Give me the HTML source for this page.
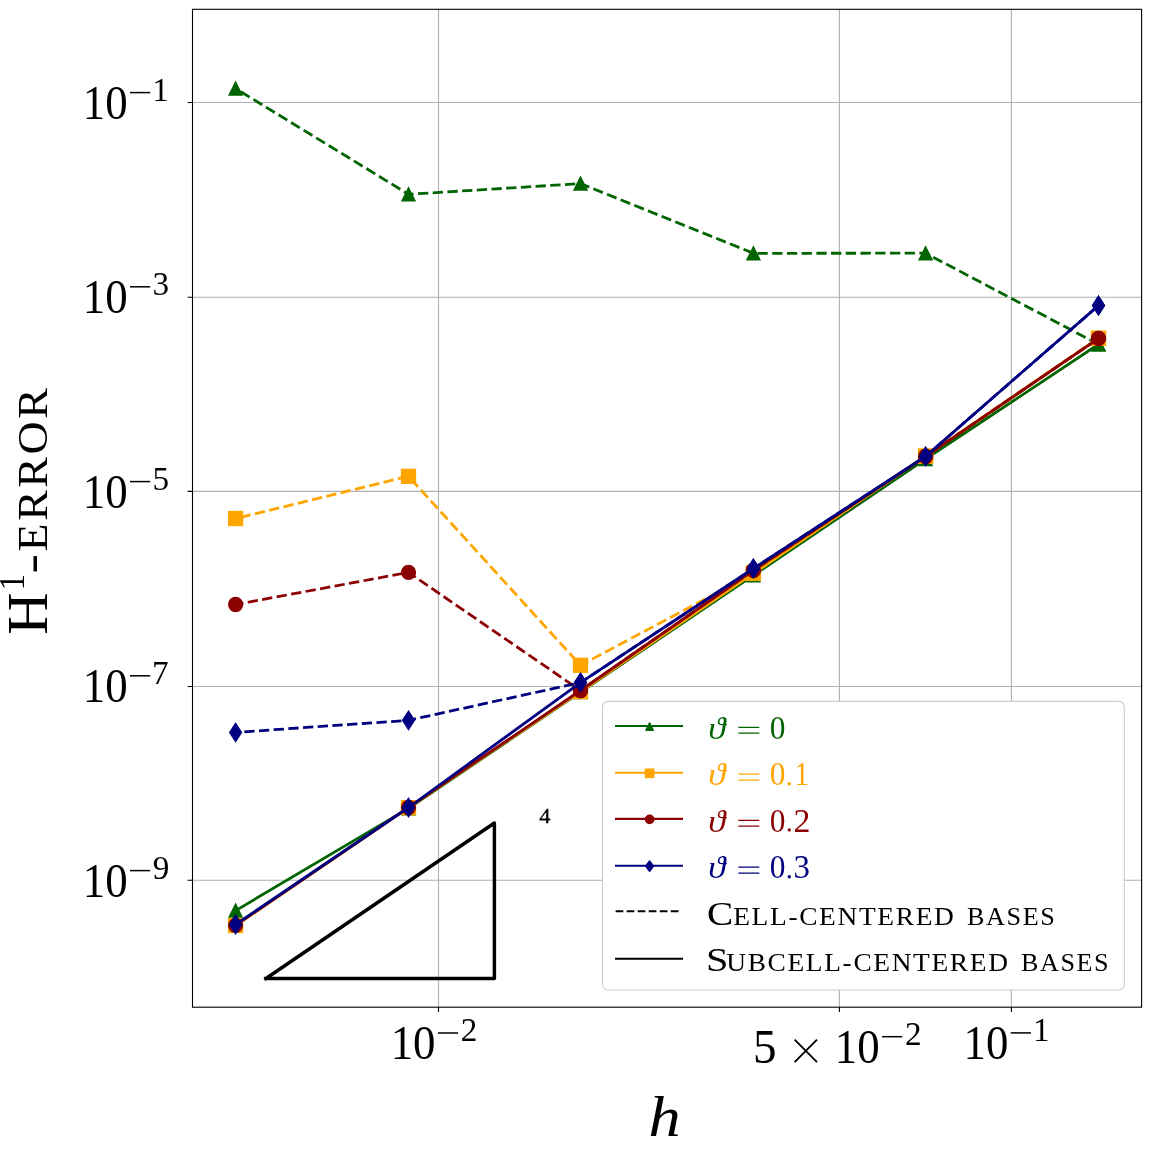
<!DOCTYPE html>
<html><head><meta charset="utf-8"><title>H1-error convergence</title>
<style>html,body{margin:0;padding:0;background:#fff}body{width:1150px;height:1156px;overflow:hidden;font-family:"Liberation Serif",serif}</style>
</head><body>
<svg width="1150" height="1156" viewBox="0 0 1150 1156" style="display:block;font-kerning:none;will-change:transform">
<rect width="1150" height="1156" fill="#fff"/>
<path d="M438.5 9.3V1007.2M839.4 9.3V1007.2M1011.4 9.3V1007.2M192.5 102.5H1141.6M192.5 297.3H1141.6M192.5 491.4H1141.6M192.5 686.5H1141.6M192.5 880.2H1141.6" stroke="#b0b0b0" stroke-width="1.1" fill="none"/>
<clipPath id="c"><rect x="192.5" y="9.3" width="949.0999999999999" height="997.9000000000001"/></clipPath>
<g clip-path="url(#c)">
<polyline points="1098.50,344.30 925.60,253.20 753.40,253.30 580.50,183.60 408.50,194.30 235.60,88.50" fill="none" stroke="#006400" stroke-width="2.78" stroke-dasharray="10.28 4.44" stroke-dashoffset="0.00" stroke-linejoin="round"/>
<path d="M235.60 82.01L229.11 94.99L242.09 94.99Z" fill="#006400" stroke="#006400" stroke-width="1.39" stroke-linejoin="miter"/>
<path d="M408.50 187.81L402.01 200.79L414.99 200.79Z" fill="#006400" stroke="#006400" stroke-width="1.39" stroke-linejoin="miter"/>
<path d="M580.50 177.11L574.01 190.09L586.99 190.09Z" fill="#006400" stroke="#006400" stroke-width="1.39" stroke-linejoin="miter"/>
<path d="M753.40 246.81L746.91 259.79L759.89 259.79Z" fill="#006400" stroke="#006400" stroke-width="1.39" stroke-linejoin="miter"/>
<path d="M925.60 246.71L919.11 259.69L932.09 259.69Z" fill="#006400" stroke="#006400" stroke-width="1.39" stroke-linejoin="miter"/>
<path d="M1098.50 337.81L1092.01 350.79L1104.99 350.79Z" fill="#006400" stroke="#006400" stroke-width="1.39" stroke-linejoin="miter"/>
<polyline points="235.60,910.60 408.50,808.40 580.50,692.00 753.40,575.30 925.60,459.10 1098.50,344.30" fill="none" stroke="#006400" stroke-width="2.78" stroke-linejoin="round" stroke-linecap="square"/>
<path d="M235.60 904.11L229.11 917.09L242.09 917.09Z" fill="#006400" stroke="#006400" stroke-width="1.39" stroke-linejoin="miter"/>
<path d="M408.50 801.91L402.01 814.89L414.99 814.89Z" fill="#006400" stroke="#006400" stroke-width="1.39" stroke-linejoin="miter"/>
<path d="M580.50 685.51L574.01 698.49L586.99 698.49Z" fill="#006400" stroke="#006400" stroke-width="1.39" stroke-linejoin="miter"/>
<path d="M753.40 568.81L746.91 581.79L759.89 581.79Z" fill="#006400" stroke="#006400" stroke-width="1.39" stroke-linejoin="miter"/>
<path d="M925.60 452.61L919.11 465.59L932.09 465.59Z" fill="#006400" stroke="#006400" stroke-width="1.39" stroke-linejoin="miter"/>
<path d="M1098.50 337.81L1092.01 350.79L1104.99 350.79Z" fill="#006400" stroke="#006400" stroke-width="1.39" stroke-linejoin="miter"/>
<polyline points="1098.50,338.30 925.60,456.20 753.40,573.40 580.50,665.30 408.50,476.30 235.60,518.50" fill="none" stroke="#ffa500" stroke-width="2.78" stroke-dasharray="10.28 4.44" stroke-dashoffset="-1.10" stroke-linejoin="round"/>
<rect x="228.66" y="511.56" width="13.89" height="13.89" fill="#ffa500" stroke="#ffa500" stroke-width="1.39"/>
<rect x="401.56" y="469.36" width="13.89" height="13.89" fill="#ffa500" stroke="#ffa500" stroke-width="1.39"/>
<rect x="573.56" y="658.36" width="13.89" height="13.89" fill="#ffa500" stroke="#ffa500" stroke-width="1.39"/>
<rect x="746.46" y="566.46" width="13.89" height="13.89" fill="#ffa500" stroke="#ffa500" stroke-width="1.39"/>
<rect x="918.66" y="449.26" width="13.89" height="13.89" fill="#ffa500" stroke="#ffa500" stroke-width="1.39"/>
<rect x="1091.56" y="331.36" width="13.89" height="13.89" fill="#ffa500" stroke="#ffa500" stroke-width="1.39"/>
<polyline points="235.60,925.50 408.50,807.70 580.50,691.50 753.40,573.40 925.60,456.20 1098.50,338.30" fill="none" stroke="#ffa500" stroke-width="2.78" stroke-linejoin="round" stroke-linecap="square"/>
<rect x="228.66" y="918.56" width="13.89" height="13.89" fill="#ffa500" stroke="#ffa500" stroke-width="1.39"/>
<rect x="401.56" y="800.76" width="13.89" height="13.89" fill="#ffa500" stroke="#ffa500" stroke-width="1.39"/>
<rect x="573.56" y="684.56" width="13.89" height="13.89" fill="#ffa500" stroke="#ffa500" stroke-width="1.39"/>
<rect x="746.46" y="566.46" width="13.89" height="13.89" fill="#ffa500" stroke="#ffa500" stroke-width="1.39"/>
<rect x="918.66" y="449.26" width="13.89" height="13.89" fill="#ffa500" stroke="#ffa500" stroke-width="1.39"/>
<rect x="1091.56" y="331.36" width="13.89" height="13.89" fill="#ffa500" stroke="#ffa500" stroke-width="1.39"/>
<polyline points="1098.50,338.40 925.60,456.50 753.40,570.30 580.50,690.50 408.50,572.40 235.60,604.50" fill="none" stroke="#8b0000" stroke-width="2.78" stroke-dasharray="10.28 4.44" stroke-dashoffset="-2.00" stroke-linejoin="round"/>
<circle cx="235.60" cy="604.50" r="6.94" fill="#8b0000" stroke="#8b0000" stroke-width="1.39"/>
<circle cx="408.50" cy="572.40" r="6.94" fill="#8b0000" stroke="#8b0000" stroke-width="1.39"/>
<circle cx="580.50" cy="690.50" r="6.94" fill="#8b0000" stroke="#8b0000" stroke-width="1.39"/>
<circle cx="753.40" cy="570.30" r="6.94" fill="#8b0000" stroke="#8b0000" stroke-width="1.39"/>
<circle cx="925.60" cy="456.50" r="6.94" fill="#8b0000" stroke="#8b0000" stroke-width="1.39"/>
<circle cx="1098.50" cy="338.40" r="6.94" fill="#8b0000" stroke="#8b0000" stroke-width="1.39"/>
<polyline points="235.60,925.30 408.50,807.50 580.50,690.50 753.40,570.30 925.60,456.50 1098.50,338.40" fill="none" stroke="#8b0000" stroke-width="2.78" stroke-linejoin="round" stroke-linecap="square"/>
<circle cx="235.60" cy="925.30" r="6.94" fill="#8b0000" stroke="#8b0000" stroke-width="1.39"/>
<circle cx="408.50" cy="807.50" r="6.94" fill="#8b0000" stroke="#8b0000" stroke-width="1.39"/>
<circle cx="580.50" cy="690.50" r="6.94" fill="#8b0000" stroke="#8b0000" stroke-width="1.39"/>
<circle cx="753.40" cy="570.30" r="6.94" fill="#8b0000" stroke="#8b0000" stroke-width="1.39"/>
<circle cx="925.60" cy="456.50" r="6.94" fill="#8b0000" stroke="#8b0000" stroke-width="1.39"/>
<circle cx="1098.50" cy="338.40" r="6.94" fill="#8b0000" stroke="#8b0000" stroke-width="1.39"/>
<polyline points="1098.50,305.50 925.60,456.40 753.40,568.50 580.50,682.60 408.50,720.30 235.60,732.40" fill="none" stroke="#000080" stroke-width="2.78" stroke-dasharray="10.28 4.44" stroke-dashoffset="-1.00" stroke-linejoin="round"/>
<path d="M235.60 723.30L241.49 732.40L235.60 741.50L229.71 732.40Z" fill="#000080" stroke="#000080" stroke-width="1.39" stroke-linejoin="miter"/>
<path d="M408.50 711.20L414.39 720.30L408.50 729.40L402.61 720.30Z" fill="#000080" stroke="#000080" stroke-width="1.39" stroke-linejoin="miter"/>
<path d="M580.50 673.50L586.39 682.60L580.50 691.70L574.61 682.60Z" fill="#000080" stroke="#000080" stroke-width="1.39" stroke-linejoin="miter"/>
<path d="M753.40 559.40L759.29 568.50L753.40 577.60L747.51 568.50Z" fill="#000080" stroke="#000080" stroke-width="1.39" stroke-linejoin="miter"/>
<path d="M925.60 447.30L931.49 456.40L925.60 465.50L919.71 456.40Z" fill="#000080" stroke="#000080" stroke-width="1.39" stroke-linejoin="miter"/>
<path d="M1098.50 296.40L1104.39 305.50L1098.50 314.60L1092.61 305.50Z" fill="#000080" stroke="#000080" stroke-width="1.39" stroke-linejoin="miter"/>
<polyline points="235.60,924.50 408.50,807.50 580.50,682.60 753.40,568.50 925.60,456.40 1098.50,305.50" fill="none" stroke="#000080" stroke-width="2.78" stroke-linejoin="round" stroke-linecap="square"/>
<path d="M235.60 915.40L241.49 924.50L235.60 933.60L229.71 924.50Z" fill="#000080" stroke="#000080" stroke-width="1.39" stroke-linejoin="miter"/>
<path d="M408.50 798.40L414.39 807.50L408.50 816.60L402.61 807.50Z" fill="#000080" stroke="#000080" stroke-width="1.39" stroke-linejoin="miter"/>
<path d="M580.50 673.50L586.39 682.60L580.50 691.70L574.61 682.60Z" fill="#000080" stroke="#000080" stroke-width="1.39" stroke-linejoin="miter"/>
<path d="M753.40 559.40L759.29 568.50L753.40 577.60L747.51 568.50Z" fill="#000080" stroke="#000080" stroke-width="1.39" stroke-linejoin="miter"/>
<path d="M925.60 447.30L931.49 456.40L925.60 465.50L919.71 456.40Z" fill="#000080" stroke="#000080" stroke-width="1.39" stroke-linejoin="miter"/>
<path d="M1098.50 296.40L1104.39 305.50L1098.50 314.60L1092.61 305.50Z" fill="#000080" stroke="#000080" stroke-width="1.39" stroke-linejoin="miter"/>
<path d="M265.9 978.5H494.4V823L265.9 978.5" fill="none" stroke="#000" stroke-width="3.47" stroke-linejoin="round" stroke-linecap="square"/>
</g>
<text transform="translate(539.16,823.00) scale(1.0310,1)" font-family="Liberation Serif, serif" font-size="21.7" fill="#000" stroke="#000" stroke-width="0.35">4</text>
<rect x="192.5" y="9.3" width="949.0999999999999" height="997.9000000000001" fill="none" stroke="#000" stroke-width="1.1"/>
<path d="M438.5 1007.2v4.9M839.4 1007.2v4.9M1011.4 1007.2v4.9M192.5 102.5h-4.9M192.5 297.3h-4.9M192.5 491.4h-4.9M192.5 686.5h-4.9M192.5 880.2h-4.9" stroke="#000" stroke-width="1.1" fill="none"/>
<text transform="translate(82.76,118.80) scale(0.9153,1)" font-family="Liberation Serif, serif" font-size="49.0" fill="#000">10</text><rect x="130.00" y="91.85" width="20.2" height="1.5" fill="#000"/><text transform="translate(152.24,100.80) scale(1.0000,1)" font-family="Liberation Serif, serif" font-size="33.2" fill="#000">1</text>
<text transform="translate(82.76,313.00) scale(0.9153,1)" font-family="Liberation Serif, serif" font-size="49.0" fill="#000">10</text><rect x="130.00" y="286.05" width="20.2" height="1.5" fill="#000"/><text transform="translate(152.55,295.00) scale(1.0000,1)" font-family="Liberation Serif, serif" font-size="33.2" fill="#000">3</text>
<text transform="translate(82.76,507.80) scale(0.9153,1)" font-family="Liberation Serif, serif" font-size="49.0" fill="#000">10</text><rect x="130.00" y="480.85" width="20.2" height="1.5" fill="#000"/><text transform="translate(152.38,489.80) scale(1.0000,1)" font-family="Liberation Serif, serif" font-size="33.2" fill="#000">5</text>
<text transform="translate(82.76,702.00) scale(0.9153,1)" font-family="Liberation Serif, serif" font-size="49.0" fill="#000">10</text><rect x="130.00" y="675.05" width="20.2" height="1.5" fill="#000"/><text transform="translate(152.08,684.00) scale(1.0000,1)" font-family="Liberation Serif, serif" font-size="33.2" fill="#000">7</text>
<text transform="translate(82.76,896.80) scale(0.9153,1)" font-family="Liberation Serif, serif" font-size="49.0" fill="#000">10</text><rect x="130.00" y="869.85" width="20.2" height="1.5" fill="#000"/><text transform="translate(152.85,878.80) scale(1.0000,1)" font-family="Liberation Serif, serif" font-size="33.2" fill="#000">9</text>
<text transform="translate(390.66,1059.20) scale(0.9153,1)" font-family="Liberation Serif, serif" font-size="49.0" fill="#000">10</text><rect x="437.90" y="1032.25" width="20.2" height="1.5" fill="#000"/><text transform="translate(460.79,1041.20) scale(1.0000,1)" font-family="Liberation Serif, serif" font-size="33.2" fill="#000">2</text>
<text transform="translate(963.46,1059.10) scale(0.9153,1)" font-family="Liberation Serif, serif" font-size="49.0" fill="#000">10</text><rect x="1010.70" y="1032.15" width="20.2" height="1.5" fill="#000"/><text transform="translate(1032.94,1041.10) scale(1.0000,1)" font-family="Liberation Serif, serif" font-size="33.2" fill="#000">1</text>
<text transform="translate(834.86,1062.90) scale(0.9153,1)" font-family="Liberation Serif, serif" font-size="49.0" fill="#000">10</text><rect x="882.10" y="1035.95" width="20.2" height="1.5" fill="#000"/><text transform="translate(904.99,1044.90) scale(1.0000,1)" font-family="Liberation Serif, serif" font-size="33.2" fill="#000">2</text>
<text transform="translate(752.96,1062.90) scale(0.9626,1)" font-family="Liberation Serif, serif" font-size="49.0" fill="#000">5</text>
<path d="M794.6 1039.7L817 1062.1M817 1039.7L794.6 1062.1" stroke="#000" stroke-width="1.9" fill="none"/>
<text transform="translate(648.57,1135.60) scale(1.1103,1)" font-family="Liberation Serif, serif" font-style="italic" font-size="58.0" fill="#000">h</text>
<g transform="translate(46.8,633.1) rotate(-90)"><text transform="translate(-1.69,0.00) scale(1.0100,1)" font-family="Liberation Serif, serif" font-size="58.0" fill="#000">H</text><text transform="translate(42.48,-22.80) scale(0.9388,1)" font-family="Liberation Serif, serif" font-size="35.4" fill="#000">1</text><rect x="61.7" y="-13.3" width="15.3" height="3.5" fill="#000"/><text transform="translate(81.68,0.00) scale(1.0841,1)" font-family="Liberation Serif, serif" letter-spacing="2.4" font-size="42.3" fill="#000">ERROR</text></g>
<rect x="602.5" y="701.4" width="521.8" height="288.6" rx="5.5" ry="5.5" fill="#fff" stroke="#ccc" stroke-width="1.1"/>
<path d="M615 726.0H683" stroke="#006400" stroke-width="2.08"/>
<path d="M649.60 722.81L645.91 730.19L653.29 730.19Z" fill="#006400" stroke="#006400" stroke-width="1.39" stroke-linejoin="round"/>
<text transform="translate(708.34,738.60) scale(1.0762,1)" font-family="Liberation Serif, serif" font-style="italic" font-size="32.6" fill="#006400">ϑ</text>
<path d="M738.4 727.4H759.3M738.4 733.2H759.3" stroke="#006400" stroke-width="1.25" fill="none"/>
<text transform="translate(769.80,738.60) scale(0.9452,1)" font-family="Liberation Serif, serif" font-size="33.2" fill="#006400">0</text>
<path d="M615 772.8H683" stroke="#ffa500" stroke-width="2.08"/>
<rect x="645.44" y="769.13" width="8.33" height="8.33" fill="#ffa500" stroke="#ffa500" stroke-width="1.39"/>
<text transform="translate(708.34,785.40) scale(1.0762,1)" font-family="Liberation Serif, serif" font-style="italic" font-size="32.6" fill="#ffa500">ϑ</text>
<path d="M738.4 774.2H759.3M738.4 780.0H759.3" stroke="#ffa500" stroke-width="1.25" fill="none"/>
<text transform="translate(769.80,785.40) scale(0.9452,1)" font-family="Liberation Serif, serif" font-size="33.2" fill="#ffa500">0</text>
<circle cx="789.3" cy="783.8" r="1.7" fill="#ffa500"/>
<text transform="translate(794.45,785.40) scale(0.8727,1)" font-family="Liberation Serif, serif" font-size="33.2" fill="#ffa500">1</text>
<path d="M615 818.9H683" stroke="#8b0000" stroke-width="2.08"/>
<circle cx="649.60" cy="819.40" r="4.17" fill="#8b0000" stroke="#8b0000" stroke-width="1.39"/>
<text transform="translate(708.34,831.50) scale(1.0762,1)" font-family="Liberation Serif, serif" font-style="italic" font-size="32.6" fill="#8b0000">ϑ</text>
<path d="M738.4 820.3H759.3M738.4 826.1H759.3" stroke="#8b0000" stroke-width="1.25" fill="none"/>
<text transform="translate(769.80,831.50) scale(0.9452,1)" font-family="Liberation Serif, serif" font-size="33.2" fill="#8b0000">0</text>
<circle cx="789.3" cy="829.9" r="1.7" fill="#8b0000"/>
<text transform="translate(793.51,831.50) scale(1.0219,1)" font-family="Liberation Serif, serif" font-size="33.2" fill="#8b0000">2</text>
<path d="M615 865.8H683" stroke="#000080" stroke-width="2.08"/>
<path d="M649.6 860.95L653.6 866.20L649.6 871.45L645.6 866.20Z" fill="#000080" stroke="#000080" stroke-width="1.39" stroke-linejoin="round"/>
<text transform="translate(708.34,878.40) scale(1.0762,1)" font-family="Liberation Serif, serif" font-style="italic" font-size="32.6" fill="#000080">ϑ</text>
<path d="M738.4 867.2H759.3M738.4 873.0H759.3" stroke="#000080" stroke-width="1.25" fill="none"/>
<text transform="translate(769.80,878.40) scale(0.9452,1)" font-family="Liberation Serif, serif" font-size="33.2" fill="#000080">0</text>
<circle cx="789.3" cy="876.8" r="1.7" fill="#000080"/>
<text transform="translate(793.42,878.40) scale(0.9917,1)" font-family="Liberation Serif, serif" font-size="33.2" fill="#000080">3</text>
<path d="M615.6 911.3H680" stroke="#000" stroke-width="2.08" stroke-dasharray="7.71 3.33"/>
<path d="M615 958.7H683" stroke="#000" stroke-width="2.08"/>
<text transform="translate(706.99,925.00) scale(1.1679,1)" font-family="Liberation Serif, serif" font-size="33.6" fill="#000">C</text>
<text transform="translate(733.21,925.00) scale(1.0970,1)" font-family="Liberation Serif, serif" letter-spacing="1.5" font-size="25.0" fill="#000">ELL-CENTERED</text>
<text transform="translate(967.04,925.00) scale(1.0486,1)" font-family="Liberation Serif, serif" letter-spacing="1.5" font-size="25.0" fill="#000">BASES</text>
<text transform="translate(705.91,970.50) scale(1.1981,1)" font-family="Liberation Serif, serif" font-size="33.6" fill="#000">S</text>
<text transform="translate(726.22,970.50) scale(1.0964,1)" font-family="Liberation Serif, serif" letter-spacing="1.5" font-size="25.0" fill="#000">UBCELL-CENTERED</text>
<text transform="translate(1020.95,970.50) scale(1.0461,1)" font-family="Liberation Serif, serif" letter-spacing="1.5" font-size="25.0" fill="#000">BASES</text>
</svg>
</body></html>
